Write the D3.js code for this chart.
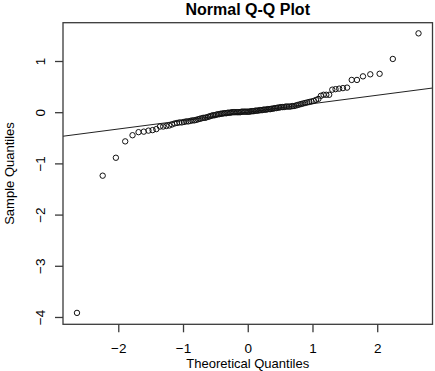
<!DOCTYPE html>
<html>
<head>
<meta charset="utf-8">
<script src="https://cdn.jsdelivr.net/npm/d3@7"></script>
<style>
  body { margin: 0; background: #fff; }
  text { font-family: "Liberation Sans", Arial, sans-serif; fill: #000; }
</style>
</head>
<body>
<svg id="qqplot" width="435" height="371"></svg>
<script>
 // Normal Q-Q plot, 120 sample values (sorted) against normal quantiles
 let sampleQuantiles = [
     -3.92,-1.24,-0.89,-0.57,-0.45,-0.39,-0.38,-0.36,-0.35,-0.33,
     -0.28,-0.28,-0.27,-0.26,-0.24,-0.22,-0.21,-0.20,-0.20,-0.19,
     -0.18,-0.18,-0.17,-0.16,-0.16,-0.15,-0.14,-0.13,-0.12,-0.11,
     -0.11,-0.10,-0.09,-0.08,-0.07,-0.06,-0.06,-0.05,-0.04,-0.04,
     -0.03,-0.03,-0.02,-0.02,-0.02,-0.01,-0.01,-0.01,0.00,0.00,
     0.00,0.00,0.00,0.00,0.00,0.01,0.01,0.01,0.01,0.01,
     0.01,0.01,0.02,0.02,0.02,0.03,0.03,0.03,0.04,0.04,
     0.04,0.05,0.05,0.05,0.06,0.06,0.06,0.07,0.07,0.08,
     0.08,0.09,0.09,0.10,0.10,0.10,0.11,0.11,0.11,0.11,
     0.12,0.12,0.13,0.14,0.15,0.16,0.17,0.18,0.19,0.20,
     0.21,0.22,0.24,0.26,0.32,0.34,0.34,0.34,0.44,0.45,
     0.46,0.47,0.48,0.63,0.63,0.70,0.74,0.75,1.04,1.54
 ];

 let theoreticalQuantiles = [
     -2.638,-2.241,-2.037,-1.893,-1.780,-1.687,-1.606,-1.534,-1.470,-1.412,
     -1.356,-1.306,-1.258,-1.213,-1.171,-1.130,-1.092,-1.055,-1.019,-0.985,
     -0.951,-0.919,-0.887,-0.856,-0.826,-0.798,-0.769,-0.742,-0.714,-0.688,
     -0.661,-0.636,-0.610,-0.585,-0.561,-0.536,-0.512,-0.489,-0.465,-0.442,
     -0.419,-0.397,-0.374,-0.352,-0.330,-0.308,-0.286,-0.265,-0.243,-0.222,
     -0.201,-0.180,-0.157,-0.136,-0.115,-0.094,-0.073,-0.052,-0.031,-0.010,
     0.010,0.031,0.052,0.073,0.094,0.115,0.136,0.157,0.180,0.201,
     0.222,0.243,0.265,0.286,0.308,0.330,0.352,0.374,0.397,0.419,
     0.442,0.465,0.489,0.512,0.536,0.561,0.585,0.610,0.636,0.661,
     0.688,0.714,0.742,0.769,0.798,0.826,0.856,0.887,0.919,0.951,
     0.985,1.019,1.055,1.092,1.130,1.171,1.213,1.258,1.306,1.356,
     1.412,1.470,1.534,1.606,1.687,1.780,1.893,2.037,2.241,2.638
 ];

 let xTicks = [-2, -1, 0, 1, 2];
 let yTicks = [-4, -3, -2, -1, 0, 1];
 let xLimits = [-2.854, 2.854];
 let yLimits = [-4.143, 1.748];
 let normalQuartiles = [-0.6745, 0.6745];   // qnorm(0.25), qnorm(0.75) for qqline

 let svg = d3.select("svg#qqplot");
 let margin = {top: 22.7, right: 2.5, bottom: 46.7, left: 63};
 let width = svg.attr("width") - margin.left - margin.right;
 let height = svg.attr("height") - margin.top - margin.bottom;

 const xScale = d3.scaleLinear().domain(xLimits).range([margin.left, margin.left + width]);
 const yScale = d3.scaleLinear().domain(yLimits).range([margin.top + height, margin.top]);

 let points = theoreticalQuantiles.map((t, i) => ({x: t, y: sampleQuantiles[i]}));

 // qqline through the first and third quartiles
 let sorted = sampleQuantiles.slice().sort(d3.ascending);
 let q1 = d3.quantile(sorted, 0.25), q3 = d3.quantile(sorted, 0.75);
 let slope = (q3 - q1) / (normalQuartiles[1] - normalQuartiles[0]);
 let intercept = q1 - slope * normalQuartiles[0];

 svg.append("defs").append("clipPath").attr("id", "plotclip")
     .append("rect")
     .attr("x", margin.left).attr("y", margin.top)
     .attr("width", width).attr("height", height);

 svg.append("line")
     .attr("clip-path", "url(#plotclip)")
     .attr("x1", xScale(xLimits[0])).attr("y1", yScale(intercept + slope * xLimits[0]))
     .attr("x2", xScale(xLimits[1])).attr("y2", yScale(intercept + slope * xLimits[1]))
     .attr("stroke", "#222")
     .attr("stroke-width", 1);

 svg.append("g").attr("id", "points")
     .selectAll("circle")
     .data(points)
     .join("circle")
     .attr("cx", d => xScale(d.x))
     .attr("cy", d => yScale(d.y))
     .attr("r", 2.7)
     .attr("fill", "none")
     .attr("stroke", "#111")
     .attr("stroke-width", 1);

 // box
 svg.append("rect")
     .attr("x", margin.left).attr("y", margin.top)
     .attr("width", width).attr("height", height)
     .attr("fill", "none")
     .attr("stroke", "#3a3a3a")
     .attr("stroke-width", 1.3);

 let bottomAxis = d3.axisBottom(xScale)
                     .tickValues(xTicks)
                     .tickSize(8)
                     .tickPadding(11)
                     .tickFormat(d3.format("d"));
 let gx = svg.append("g")
     .attr("transform", `translate(0,${margin.top + height})`)
     .call(bottomAxis);
 gx.select(".domain").remove();
 gx.selectAll("line").attr("stroke", "#3a3a3a").attr("stroke-width", 1.3);
 gx.selectAll("text").style("font-size", "13.5px").attr("fill", "#000")
     .style("font-family", '"Liberation Sans", Arial, sans-serif');

 let leftAxis = d3.axisLeft(yScale)
                 .tickValues(yTicks)
                 .tickSize(8)
                 .tickFormat(d3.format("d"));
 let gy = svg.append("g")
     .attr("transform", `translate(${margin.left},0)`)
     .call(leftAxis);
 gy.select(".domain").remove();
 gy.selectAll("line").attr("stroke", "#3a3a3a").attr("stroke-width", 1.3);
 gy.selectAll("text")
     .attr("x", 0).attr("y", -18).attr("dy", 0)
     .attr("transform", "rotate(-90)")
     .attr("text-anchor", "middle")
     .attr("fill", "#000")
     .style("font-size", "13.5px")
     .style("font-family", '"Liberation Sans", Arial, sans-serif');

 // titles
 svg.append("text")
     .attr("x", margin.left + width / 2).attr("y", 15)
     .attr("text-anchor", "middle")
     .style("font-size", "16px").style("font-weight", "bold")
     .text("Normal Q-Q Plot");

 svg.append("text")
     .attr("x", margin.left + width / 2).attr("y", 367.5)
     .attr("text-anchor", "middle")
     .style("font-size", "13px")
     .text("Theoretical Quantiles");

 svg.append("text")
     .attr("transform", `translate(13.5,${margin.top + height / 2}) rotate(-90)`)
     .attr("text-anchor", "middle")
     .style("font-size", "13px")
     .text("Sample Quantiles");
</script>
</body>
</html>
